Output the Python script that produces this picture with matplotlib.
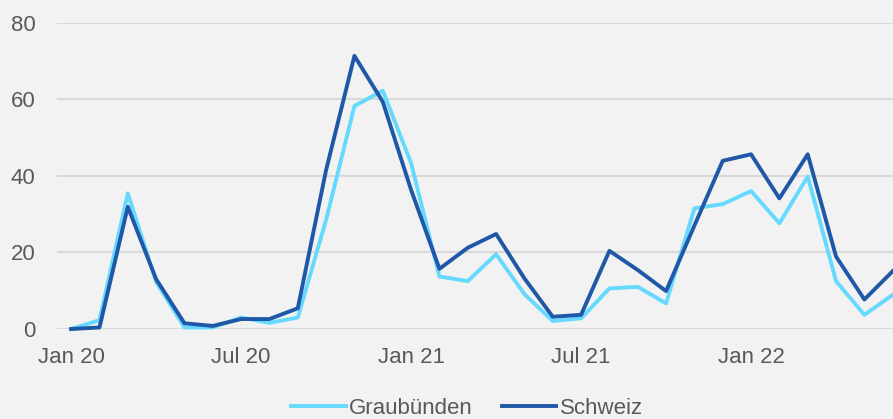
import matplotlib.pyplot as plt

# monthly values, Jan 20 .. Jun 22
months = list(range(30))
tick_pos = [0, 6, 12, 18, 24]
tick_labels = ['Jan 20', 'Jul 20', 'Jan 21', 'Jul 21', 'Jan 22']

graubuenden = [0.0, 2.3, 35.4, 12.3, 0.4, 0.4, 3.0, 1.6, 3.0, 28.5,
               58.2, 62.2, 43.3, 13.7, 12.5, 19.5, 9.1, 2.1, 2.8, 10.6,
               11.0, 6.7, 31.5, 32.6, 36.0, 27.6, 39.8, 12.5, 3.7, 8.9]
schweiz = [0.0, 0.4, 31.9, 13.0, 1.5, 0.8, 2.6, 2.6, 5.4, 41.5,
           71.3, 59.3, 36.3, 15.7, 21.2, 24.8, 13.2, 3.2, 3.7, 20.4,
           15.4, 9.9, 27.0, 43.9, 45.6, 34.1, 45.6, 18.9, 7.7, 15.1]

bg = '#F2F2F2'
txt = '#595959'
fs = 16
plt.rcParams['font.family'] = ['Liberation Sans', 'DejaVu Sans']

fig = plt.figure(figsize=(8.93, 4.19), dpi=100, facecolor=bg)
ax = fig.add_axes([0.0638, 0.2148, 0.9362, 0.7315])
ax.set_facecolor(bg)

ax.plot(months, graubuenden, color='#66D9FF', lw=2.8, label='Graubünden', clip_on=False, zorder=3)
ax.plot(months, schweiz, color='#1F58A6', lw=2.8, label='Schweiz', clip_on=False, zorder=4)

ax.set_ylim(0, 80)
ax.set_yticks([0, 20, 40, 60, 80])
ax.set_xlim(-0.5, 29.01)
ax.set_xticks(tick_pos)
ax.set_xticklabels(tick_labels)
ax.grid(axis='y', color='#D9D9D9', lw=1.5, zorder=0)
for s in ax.spines.values():
    s.set_visible(False)
ax.tick_params(axis='y', length=0, pad=15.5, labelsize=fs, labelcolor=txt)
ax.tick_params(axis='x', length=0, pad=13, labelsize=fs, labelcolor=txt)

fig.legend(loc='center', bbox_to_anchor=(0.523, 0.026), ncol=2, frameon=False,
           fontsize=fs, labelcolor=txt, handlelength=2.45, handletextpad=0.15,
           columnspacing=1.3)

fig.savefig('out.png', dpi=100, facecolor=bg)
